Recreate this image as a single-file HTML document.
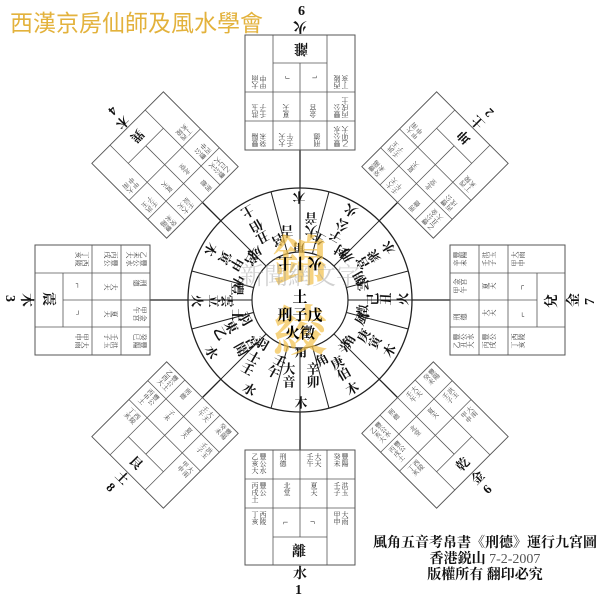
<!DOCTYPE html>
<html><head><meta charset="utf-8"><style>
html,body{margin:0;padding:0;background:#fff;}
svg{display:block;font-family:"Liberation Serif","Noto Serif CJK SC","Noto Sans CJK TC",serif;}
.t{font-size:7px;fill:#333;writing-mode:tb;}
.m{font-size:9px;fill:#222;}
.s{font-size:13px;font-weight:bold;fill:#111;writing-mode:tb;}
.lb{font-size:14px;font-weight:bold;fill:#111;}
</style></head><body>
<svg width="600" height="600" viewBox="0 0 600 600" xmlns="http://www.w3.org/2000/svg">
<rect width="600" height="600" fill="#fff"/>
<text x="10" y="31" font-size="23" fill="#e3b23c" font-family="'Liberation Sans','Noto Sans CJK TC',sans-serif">西漢京房仙師及風水學會</text>

<g stroke="#222" fill="none" stroke-width="1.3">
<line x1="300" y1="150" x2="300" y2="450"/><line x1="150" y1="300" x2="450" y2="300"/>
<line x1="200" y1="200" x2="400" y2="400"/><line x1="400" y1="200" x2="200" y2="400"/>
</g>

<g transform="rotate(0 300 300)">
<rect x="245" y="450" width="110" height="115" fill="#fff" stroke="#555"/>
<g stroke="#555" stroke-width="0.8"><line x1="273" y1="450" x2="273" y2="565"/><line x1="327" y1="450" x2="327" y2="565"/><line x1="245" y1="479" x2="355" y2="479"/><line x1="245" y1="508" x2="355" y2="508"/><line x1="273" y1="537" x2="327" y2="537"/><line x1="300" y1="450" x2="300" y2="537"/></g>
<text class="t" x="255" y="453">乙亥大</text><text class="t" x="263" y="453">豐公水</text><text class="t" x="283" y="453">刑德</text><text class="t" x="310" y="453">壬午</text><text class="t" x="318" y="453">大天</text><text class="t" x="337" y="453">癸未</text><text class="t" x="345" y="453">豐陽</text>
<text class="t" x="255" y="482">丙戌土</text><text class="t" x="263" y="482">豐公</text><text class="t" x="287" y="482">北堂</text><text class="t" x="314" y="482">夏天</text><text class="t" x="337" y="482">壬子</text><text class="t" x="345" y="482">洪玉</text>
<text class="t" x="255" y="511">丁亥</text><text class="t" x="263" y="511">西陵</text><text class="t" x="337" y="511">甲申</text><text class="t" x="345" y="511">大雨</text>
<text class="m" x="283" y="525">⌐</text><text class="m" x="310" y="525">¬</text>
<text class="lb" x="292" y="556">離</text>
<text class="lb" x="293" y="578">水</text><text class="lb" x="295" y="594">1</text>
</g>

<g transform="rotate(45 300 300) translate(300 300) scale(0.92) translate(-300 -300)">
<rect x="245" y="450" width="110" height="115" fill="#fff" stroke="#555"/>
<g stroke="#555" stroke-width="0.8"><line x1="273" y1="450" x2="273" y2="565"/><line x1="327" y1="450" x2="327" y2="565"/><line x1="245" y1="479" x2="355" y2="479"/><line x1="245" y1="508" x2="355" y2="508"/><line x1="273" y1="537" x2="327" y2="537"/><line x1="300" y1="450" x2="300" y2="537"/></g>
<text class="t" x="255" y="453">乙酉大</text><text class="t" x="263" y="453">豐公土</text><text class="t" x="283" y="453">刑德</text><text class="t" x="310" y="453">壬午</text><text class="t" x="318" y="453">大天</text><text class="t" x="337" y="453">癸未</text><text class="t" x="345" y="453">豐陽</text>
<text class="t" x="255" y="482">丙申土</text><text class="t" x="263" y="482">豐公</text><text class="t" x="287" y="482">子未</text><text class="t" x="314" y="482">夏天</text><text class="t" x="337" y="482">壬子</text><text class="t" x="345" y="482">洪玉</text>
<text class="t" x="255" y="511">丁亥</text><text class="t" x="263" y="511">西陵</text><text class="t" x="337" y="511">甲申</text><text class="t" x="345" y="511">大雨</text>
<text class="lb" x="292" y="556">艮</text><text class="lb" x="293" y="578">土</text><text class="lb" x="295" y="594">8</text>
</g>

<g transform="rotate(90 300 300)">
<rect x="245" y="450" width="110" height="115" fill="#fff" stroke="#555"/>
<g stroke="#555" stroke-width="0.8"><line x1="273" y1="450" x2="273" y2="565"/><line x1="327" y1="450" x2="327" y2="565"/><line x1="245" y1="479" x2="355" y2="479"/><line x1="245" y1="508" x2="355" y2="508"/><line x1="273" y1="537" x2="327" y2="537"/><line x1="300" y1="450" x2="300" y2="537"/></g>
<text class="t" x="255" y="453">乙未大</text><text class="t" x="263" y="453">豐公水</text><text class="t" x="283" y="453">刑德</text><text class="t" x="310" y="453">甲午</text><text class="t" x="318" y="453">金宮</text><text class="t" x="337" y="453">癸巳</text><text class="t" x="345" y="453">豐陽</text>
<text class="t" x="255" y="482">丙戌</text><text class="t" x="263" y="482">豐公</text><text class="t" x="287" y="482">大天</text><text class="t" x="314" y="482">夏天</text><text class="t" x="337" y="482">壬子</text><text class="t" x="345" y="482">洪玉</text>
<text class="t" x="255" y="511">丁亥</text><text class="t" x="263" y="511">西陵</text><text class="t" x="337" y="511">甲申</text><text class="t" x="345" y="511">大雨</text>
<text class="m" x="283" y="525">⌐</text><text class="m" x="310" y="525">¬</text>
<text class="lb" x="292" y="556">震</text><text class="lb" x="293" y="578">木</text><text class="lb" x="295" y="594">3</text>
</g>

<g transform="rotate(135 300 300) translate(300 300) scale(0.92) translate(-300 -300)">
<rect x="245" y="450" width="110" height="115" fill="#fff" stroke="#555"/>
<g stroke="#555" stroke-width="0.8"><line x1="273" y1="450" x2="273" y2="565"/><line x1="327" y1="450" x2="327" y2="565"/><line x1="245" y1="479" x2="355" y2="479"/><line x1="245" y1="508" x2="355" y2="508"/><line x1="273" y1="537" x2="327" y2="537"/><line x1="300" y1="450" x2="300" y2="537"/></g>
<text class="t" x="255" y="453">乙巳大</text><text class="t" x="263" y="453">豐公火</text><text class="t" x="283" y="453">刑德</text><text class="t" x="310" y="453">壬辰</text><text class="t" x="318" y="453">大天</text><text class="t" x="337" y="453">癸未</text><text class="t" x="345" y="453">豐陽</text>
<text class="t" x="255" y="482">丙申</text><text class="t" x="263" y="482">豐公</text><text class="t" x="287" y="482">北堂</text><text class="t" x="314" y="482">夏天</text><text class="t" x="337" y="482">壬子</text><text class="t" x="345" y="482">洪玉</text>
<text class="t" x="255" y="511">丁亥</text><text class="t" x="263" y="511">西陵</text><text class="t" x="337" y="511">甲申</text><text class="t" x="345" y="511">大雨</text>
<text class="lb" x="292" y="556">巽</text><text class="lb" x="293" y="578">木</text><text class="lb" x="295" y="594">4</text>
</g>

<g transform="rotate(180 300 300)">
<rect x="245" y="450" width="110" height="115" fill="#fff" stroke="#555"/>
<g stroke="#555" stroke-width="0.8"><line x1="273" y1="450" x2="273" y2="565"/><line x1="327" y1="450" x2="327" y2="565"/><line x1="245" y1="479" x2="355" y2="479"/><line x1="245" y1="508" x2="355" y2="508"/><line x1="273" y1="537" x2="327" y2="537"/><line x1="300" y1="450" x2="300" y2="537"/></g>
<text class="t" x="255" y="453">乙卯大</text><text class="t" x="263" y="453">豐公水</text><text class="t" x="283" y="453">刑德</text><text class="t" x="310" y="453">壬午</text><text class="t" x="318" y="453">大天</text><text class="t" x="337" y="453">癸未</text><text class="t" x="345" y="453">豐陽</text>
<text class="t" x="255" y="482">丙戌土</text><text class="t" x="263" y="482">豐公</text><text class="t" x="287" y="482">金宮</text><text class="t" x="314" y="482">夏天</text><text class="t" x="337" y="482">壬子</text><text class="t" x="345" y="482">洪玉</text>
<text class="t" x="255" y="511">丁亥</text><text class="t" x="263" y="511">西陵</text><text class="t" x="337" y="511">甲申</text><text class="t" x="345" y="511">大雨</text>
<text class="m" x="283" y="525">⌐</text><text class="m" x="310" y="525">¬</text>
<text class="lb" x="292" y="556">離</text><text class="lb" x="293" y="578">火</text><text class="lb" x="295" y="594">9</text>
</g>

<g transform="rotate(225 300 300) translate(300 300) scale(0.92) translate(-300 -300)">
<rect x="245" y="450" width="110" height="115" fill="#fff" stroke="#555"/>
<g stroke="#555" stroke-width="0.8"><line x1="273" y1="450" x2="273" y2="565"/><line x1="327" y1="450" x2="327" y2="565"/><line x1="245" y1="479" x2="355" y2="479"/><line x1="245" y1="508" x2="355" y2="508"/><line x1="273" y1="537" x2="327" y2="537"/><line x1="300" y1="450" x2="300" y2="537"/></g>
<text class="t" x="255" y="453">乙丑大</text><text class="t" x="263" y="453">豐公金</text><text class="t" x="283" y="453">刑德</text><text class="t" x="310" y="453">壬午</text><text class="t" x="318" y="453">大天</text><text class="t" x="337" y="453">癸未</text><text class="t" x="345" y="453">豐陽</text>
<text class="t" x="255" y="482">丙戌</text><text class="t" x="263" y="482">豐公</text><text class="t" x="287" y="482">北堂</text><text class="t" x="314" y="482">夏天</text><text class="t" x="337" y="482">壬子</text><text class="t" x="345" y="482">洪玉</text>
<text class="t" x="255" y="511">丁亥</text><text class="t" x="263" y="511">西陵</text><text class="t" x="337" y="511">甲申</text><text class="t" x="345" y="511">大雨</text>
<text class="lb" x="292" y="556">坤</text><text class="lb" x="293" y="578">土</text><text class="lb" x="295" y="594">2</text>
</g>

<g transform="rotate(270 300 300)">
<rect x="245" y="450" width="110" height="115" fill="#fff" stroke="#555"/>
<g stroke="#555" stroke-width="0.8"><line x1="273" y1="450" x2="273" y2="565"/><line x1="327" y1="450" x2="327" y2="565"/><line x1="245" y1="479" x2="355" y2="479"/><line x1="245" y1="508" x2="355" y2="508"/><line x1="273" y1="537" x2="327" y2="537"/><line x1="300" y1="450" x2="300" y2="537"/></g>
<text class="t" x="255" y="453">乙丑大</text><text class="t" x="263" y="453">豐公水</text><text class="t" x="283" y="453">刑德</text><text class="t" x="310" y="453">甲午</text><text class="t" x="318" y="453">金宮</text><text class="t" x="337" y="453">辛未</text><text class="t" x="345" y="453">豐陽</text>
<text class="t" x="255" y="482">丙戌</text><text class="t" x="263" y="482">豐公</text><text class="t" x="287" y="482">大天</text><text class="t" x="314" y="482">夏天</text><text class="t" x="337" y="482">壬子</text><text class="t" x="345" y="482">洪玉</text>
<text class="t" x="255" y="511">丁亥</text><text class="t" x="263" y="511">西陵</text><text class="t" x="337" y="511">甲申</text><text class="t" x="345" y="511">大雨</text>
<text class="m" x="283" y="525">⌐</text><text class="m" x="310" y="525">¬</text>
<text class="lb" x="292" y="556">兌</text><text class="lb" x="293" y="578">金</text><text class="lb" x="295" y="594">7</text>
</g>

<g transform="rotate(315 300 300) translate(300 300) scale(0.92) translate(-300 -300)">
<rect x="245" y="450" width="110" height="115" fill="#fff" stroke="#555"/>
<g stroke="#555" stroke-width="0.8"><line x1="273" y1="450" x2="273" y2="565"/><line x1="327" y1="450" x2="327" y2="565"/><line x1="245" y1="479" x2="355" y2="479"/><line x1="245" y1="508" x2="355" y2="508"/><line x1="273" y1="537" x2="327" y2="537"/><line x1="300" y1="450" x2="300" y2="537"/></g>
<text class="t" x="255" y="453">乙亥大</text><text class="t" x="263" y="453">豐公水</text><text class="t" x="283" y="453">刑德</text><text class="t" x="310" y="453">壬午</text><text class="t" x="318" y="453">大天</text><text class="t" x="337" y="453">癸未</text><text class="t" x="345" y="453">豐陽</text>
<text class="t" x="255" y="482">丙戌土</text><text class="t" x="263" y="482">豐公</text><text class="t" x="287" y="482">北堂</text><text class="t" x="314" y="482">夏天</text><text class="t" x="337" y="482">壬子</text><text class="t" x="345" y="482">洪玉</text>
<text class="t" x="255" y="511">丁亥</text><text class="t" x="263" y="511">西陵</text><text class="t" x="337" y="511">甲申</text><text class="t" x="345" y="511">大雨</text>
<text class="lb" x="292" y="556">乾</text><text class="lb" x="293" y="578">金</text><text class="lb" x="295" y="594">6</text>
</g>

<!-- wheel -->
<circle cx="300" cy="300" r="112" fill="#fff" stroke="#222" stroke-width="1.3"/>
<g stroke="#222" stroke-width="1">
<line x1="300" y1="300" x2="300" y2="188" transform="rotate(15 300 300)"/>
<line x1="300" y1="300" x2="300" y2="188" transform="rotate(45 300 300)"/>
<line x1="300" y1="300" x2="300" y2="188" transform="rotate(75 300 300)"/>
<line x1="300" y1="300" x2="300" y2="188" transform="rotate(105 300 300)"/>
<line x1="300" y1="300" x2="300" y2="188" transform="rotate(135 300 300)"/>
<line x1="300" y1="300" x2="300" y2="188" transform="rotate(165 300 300)"/>
<line x1="300" y1="300" x2="300" y2="188" transform="rotate(195 300 300)"/>
<line x1="300" y1="300" x2="300" y2="188" transform="rotate(225 300 300)"/>
<line x1="300" y1="300" x2="300" y2="188" transform="rotate(255 300 300)"/>
<line x1="300" y1="300" x2="300" y2="188" transform="rotate(285 300 300)"/>
<line x1="300" y1="300" x2="300" y2="188" transform="rotate(315 300 300)"/>
<line x1="300" y1="300" x2="300" y2="188" transform="rotate(345 300 300)"/>
<line x1="188" y1="300" x2="412" y2="300"/>
<line x1="300" y1="188" x2="300" y2="412"/>
</g>
<g>
<g transform="rotate(0 300 300)"><text class="s" x="300" y="345" font-size="12">角</text><text class="s" x="288" y="362">大音</text><text class="s" x="312" y="362">辛卯</text><text class="s" x="300" y="396">木</text></g>
<g transform="rotate(30 300 300)"><text class="s" x="288" y="350">羽</text><text class="s" x="288" y="366">士壬</text><text class="s" x="312" y="356">壬午</text><text class="s" x="300" y="396">水</text></g>
<g transform="rotate(60 300 300)"><text class="s" x="288" y="350">羽</text><text class="s" x="288" y="366">東乙</text><text class="s" x="312" y="356">宮聞</text><text class="s" x="300" y="396">水</text></g>
<g transform="rotate(90 300 300)"><text class="s" x="288" y="356">豐</text><text class="s" x="300" y="366">雲立</text><text class="s" x="314" y="356">士</text><text class="s" x="300" y="396">火</text></g>
<g transform="rotate(120 300 300)"><text class="s" x="288" y="356">宮</text><text class="s" x="300" y="366">甲寅</text><text class="s" x="314" y="356">中</text><text class="s" x="300" y="396">木</text></g>
<g transform="rotate(150 300 300)"><text class="s" x="288" y="356">宮</text><text class="s" x="300" y="366">丑伯</text><text class="s" x="314" y="356">成</text><text class="s" x="300" y="396">土</text></g>
<g transform="rotate(180 300 300)"><text class="s" x="300" y="345">角</text><text class="s" x="288" y="362">大音</text><text class="s" x="312" y="362">吉</text><text class="s" x="300" y="396">木</text></g>
<g transform="rotate(210 300 300)"><text class="s" x="288" y="356">封</text><text class="s" x="300" y="366">子公</text><text class="s" x="314" y="356">生</text><text class="s" x="300" y="396">火</text></g>
<g transform="rotate(240 300 300)"><text class="s" x="288" y="356">朝</text><text class="s" x="300" y="366">宮衆</text><text class="s" x="314" y="356">刑</text><text class="s" x="300" y="396">水</text></g>
<g transform="rotate(270 300 300)"><text class="s" x="288" y="356">徵</text><text class="s" x="300" y="366">己丑</text><text class="s" x="314" y="356">雲</text><text class="s" x="300" y="396">火</text></g>
<g transform="rotate(300 300 300)"><text class="s" x="288" y="356">角</text><text class="s" x="300" y="366">庚寅</text><text class="s" x="314" y="356">風</text><text class="s" x="300" y="396">木</text></g>
<g transform="rotate(330 300 300)"><text class="s" x="288" y="356">角</text><text class="s" x="300" y="366">庚伯</text><text class="s" x="314" y="356">辛</text><text class="s" x="300" y="396">木</text></g>
</g>
<circle cx="300" cy="300" r="48" fill="#fff" stroke="#222" stroke-width="1.2"/>
<text x="300" y="280" font-size="54" font-weight="bold" fill="#f2c04a" fill-opacity="0.7" text-anchor="middle" font-family="'Noto Serif CJK SC',serif">錦</text>
<text x="300" y="350" font-size="54" font-weight="bold" fill="#f2c04a" fill-opacity="0.7" text-anchor="middle" font-family="'Noto Serif CJK SC',serif">綾</text>
<text x="300" y="284" font-size="24" fill="#999" fill-opacity="0.45" text-anchor="middle">新聞網文字</text>
<text x="300" y="268" font-size="15" font-weight="bold" text-anchor="middle" transform="rotate(180 300 263)">火丨土</text>
<text x="300" y="302" font-size="15" font-weight="bold" text-anchor="middle">土</text>
<text x="300" y="320" font-size="15" font-weight="bold" text-anchor="middle">刑子戊</text>
<text x="300" y="338" font-size="15" font-weight="bold" text-anchor="middle">火徵</text>

<g font-weight="bold" fill="#111" text-anchor="middle">
<text x="485" y="547" font-size="14">風角五音考帛書《刑德》運行九宮圖</text>
<text x="485" y="563" font-size="14">香港鋭山 <tspan font-weight="normal" fill="#555">7-2-2007</tspan></text>
<text x="485" y="579" font-size="14">版權所有 翻印必究</text>
</g>
</svg>
</body></html>
